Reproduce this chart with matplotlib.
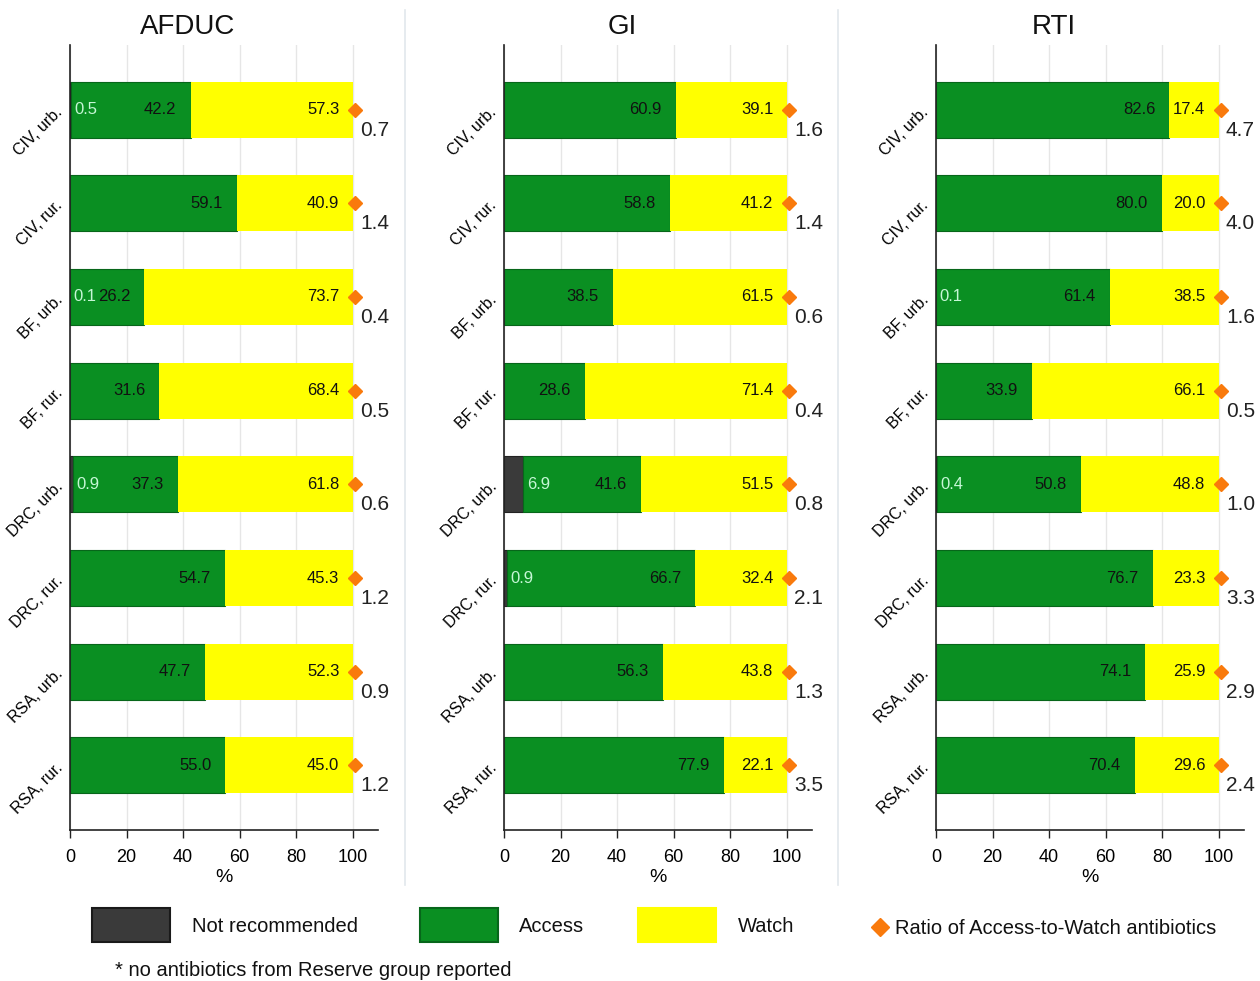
import numpy as np
import matplotlib
matplotlib.use('Agg')
from matplotlib import pyplot as plt
from matplotlib.patches import Rectangle
from matplotlib.lines import Line2D

plt.rcParams['font.family'] = ['Liberation Sans', 'DejaVu Sans']
narrow = ['Liberation Sans Narrow', 'Liberation Sans', 'DejaVu Sans']

sites = ['CIV, urb.', 'CIV, rur.', 'BF, urb.', 'BF, rur.',
         'DRC, urb.', 'DRC, rur.', 'RSA, urb.', 'RSA, rur.']
panels = ['AFDUC', 'GI', 'RTI']

# share of prescriptions (%) per site: not recommended / access / watch
afduc_notrec = [0.5, 0, 0.1, 0, 0.9, 0, 0, 0]
afduc_access = [42.2, 59.1, 26.2, 31.6, 37.3, 54.7, 47.7, 55.0]
afduc_watch = [57.3, 40.9, 73.7, 68.4, 61.8, 45.3, 52.3, 45.0]
afduc_ratio = [0.7, 1.4, 0.4, 0.5, 0.6, 1.2, 0.9, 1.2]

gi_notrec = [0, 0, 0, 0, 6.9, 0.9, 0, 0]
gi_access = [60.9, 58.8, 38.5, 28.6, 41.6, 66.7, 56.3, 77.9]
gi_watch = [39.1, 41.2, 61.5, 71.4, 51.5, 32.4, 43.8, 22.1]
gi_ratio = [1.6, 1.4, 0.6, 0.4, 0.8, 2.1, 1.3, 3.5]

rti_notrec = [0, 0, 0.1, 0, 0.4, 0, 0, 0]
rti_access = [82.6, 80.0, 61.4, 33.9, 50.8, 76.7, 74.1, 70.4]
rti_watch = [17.4, 20.0, 38.5, 66.1, 48.8, 23.3, 25.9, 29.6]
rti_ratio = [4.7, 4.0, 1.6, 0.5, 1.0, 3.3, 2.9, 2.4]

data = [
    (afduc_notrec, afduc_access, afduc_watch, afduc_ratio),
    (gi_notrec, gi_access, gi_watch, gi_ratio),
    (rti_notrec, rti_access, rti_watch, rti_ratio),
]

c_gray = '#3a3a3a'
c_green = '#0a8f22'
c_green_edge = '#07661a'
c_yellow = '#ffff00'
c_orange = '#f97a0c'
c_pale = '#c6f7d6'

W, H = 1260, 981
fig = plt.figure(figsize=(W / 100, H / 100), dpi=100)

lefts = [70, 504, 936]
ax_top, ax_bot = 45, 830
ax_w = 308
y = np.arange(len(sites))

for i, (name, (nr, acc, wat, rat)) in enumerate(zip(panels, data)):
    nr = np.array(nr, dtype=float)
    acc = np.array(acc, dtype=float)
    wat = np.array(wat, dtype=float)
    ax = fig.add_axes([lefts[i] / W, 1 - ax_bot / H, ax_w / W, (ax_bot - ax_top) / H])

    ax.barh(y, nr, height=0.6, color=c_gray, edgecolor='#222222', linewidth=0.8)
    ax.barh(y, acc, left=nr, height=0.6, color=c_green, edgecolor=c_green_edge, linewidth=0.8)
    ax.barh(y, wat, left=nr + acc, height=0.6, color=c_yellow, linewidth=0)

    for k in range(len(sites)):
        if nr[k] > 0:
            ax.text(nr[k] + 1.2, y[k], f'{nr[k]:.1f}', color=c_pale,
                    ha='left', va='center', fontsize=12)
        ax.text(nr[k] + acc[k] - 5, y[k], f'{acc[k]:.1f}', color='#111111',
                ha='right', va='center', fontsize=12)
        ax.text(95.3, y[k], f'{wat[k]:.1f}', color='#111111',
                ha='right', va='center', fontsize=12)
        ax.text(102.6, y[k] + 0.22, f'{rat[k]:.1f}', color='#222222',
                ha='left', va='center', fontsize=15, family=narrow)
    ax.plot(np.full(len(sites), 101.0), y, linestyle='none', marker='D',
            markersize=7.5, color=c_orange, clip_on=False, zorder=5)

    ax.set_xlim(0, 109)
    ax.set_ylim(len(sites) - 0.31, -0.69)
    ax.set_xticks([0, 20, 40, 60, 80, 100])
    ax.set_xticklabels(['0', '20', '40', '60', '80', '100'], fontsize=13, family=narrow)
    ax.grid(axis='x', color='#e6e6e6', linewidth=1)
    ax.set_axisbelow(True)
    ax.set_yticks(y)
    ax.set_yticklabels(sites, rotation=45, ha='right', va='center',
                       rotation_mode='anchor', fontsize=11.5, family=narrow)
    ax.tick_params(axis='y', length=0, pad=7)
    ax.tick_params(axis='x', length=6, width=1, color='#222222', pad=8)
    for s in ['top', 'right']:
        ax.spines[s].set_visible(False)
    for s in ['left', 'bottom']:
        ax.spines[s].set_color('#222222')
        ax.spines[s].set_linewidth(1.2)
    ax.set_xlabel('%', fontsize=14, family=narrow, labelpad=2)

    fig.text((lefts[i] + 118) / W, 1 - 27 / H, name, ha='center', va='center',
             fontsize=20, color='#111111')

# faint dividers between the panels
for xs in [405, 838]:
    fig.add_artist(Line2D([xs / W, xs / W], [1 - 10 / H, 1 - 885 / H],
                          transform=fig.transFigure, color='#e2e8ec', linewidth=1.2))

# legend along the bottom
boxes = [(92, c_gray, '#1a1a1a', 'Not recommended', 192),
         (420, c_green, c_green_edge, 'Access', 519),
         (638, c_yellow, c_yellow, 'Watch', 738)]
for x0, fc, ec, label, tx in boxes:
    fig.add_artist(Rectangle((x0 / W, 1 - 942 / H), 78 / W, 34 / H,
                             transform=fig.transFigure, facecolor=fc,
                             edgecolor=ec, linewidth=1.5))
    fig.text(tx / W, 1 - 926 / H, label, ha='left', va='center', fontsize=14.5, color='#111111')
fig.add_artist(Line2D([880 / W], [1 - 927 / H], transform=fig.transFigure,
                      marker='D', markersize=9, color=c_orange, linestyle='none'))
fig.text(895 / W, 1 - 928 / H, 'Ratio of Access-to-Watch antibiotics', ha='left',
         va='center', fontsize=14.5, color='#111111')
fig.text(115 / W, 1 - 970 / H, '* no antibiotics from Reserve group reported',
         ha='left', va='center', fontsize=14.5, color='#111111')

fig.savefig('out.png', dpi=100)
